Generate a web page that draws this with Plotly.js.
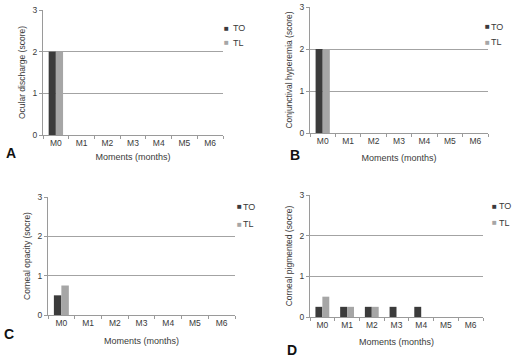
<!DOCTYPE html>
<html>
<head>
<meta charset="utf-8">
<script src="https://cdn.plot.ly/plotly-3.0.1.min.js"></script>
<style>html,body{margin:0;padding:0;background:#fff;}#chart{width:513px;height:359px;}</style>
</head>
<body>
<div id="chart"></div>
<script>
// ---- Data ----
var categories = ['M0', 'M1', 'M2', 'M3', 'M4', 'M5', 'M6'];
var seriesNames = ['TO', 'TL'];
var ocularTO = [2, 0, 0, 0, 0, 0, 0];
var ocularTL = [2, 0, 0, 0, 0, 0, 0];
var conjTO = [2, 0, 0, 0, 0, 0, 0];
var conjTL = [2, 0, 0, 0, 0, 0, 0];
var opacityTO = [0.5, 0, 0, 0, 0, 0, 0];
var opacityTL = [0.75, 0, 0, 0, 0, 0, 0];
var pigmTO = [0.25, 0.25, 0.25, 0.25, 0.25, 0, 0];
var pigmTL = [0.5, 0.25, 0.25, 0, 0, 0, 0];
var yTickVals = [0, 1, 2, 3];
var yTitles = ['Ocular discharge (score)', 'Conjunctival hyperemia (score)', 'Corneal opacity (socre)', 'Corneal pigmented (socre)'];
var xTitle = 'Moments (months)';
var panelLetters = ['A', 'B', 'C', 'D'];

// ---- Styles ----
var W = 513, H = 359;
var colTO = '#3b3b3b', colTL = '#a6a6a6';
var FONT = 'Liberation Sans, Arial, sans-serif';
var gridCol = '#a3a3a3', axisCol = '#9a9a9a', textCol = '#3a3a3a';
function px(x) { return x / W; }
function py(y) { return 1 - y / H; }

var panels = [
  {ax: '', to: ocularTO, tl: ocularTL, xd: [43, 223], yd: [135, 10], xs: 6, ys: 5,
   leg: {x: 222, y1: 28, y2: 43, gap: 9}, letter: {x: 11, y: 153}},
  {ax: '2', to: conjTO, tl: conjTL, xd: [310, 488], yd: [133, 7], xs: 9, ys: 5,
   leg: {x: 483, y1: 27, y2: 42, gap: 6}, letter: {x: 295, y: 155}},
  {ax: '3', to: opacityTO, tl: opacityTL, xd: [48, 235], yd: [315, 197], xs: 10, ys: 5,
   leg: {x: 235, y1: 207, y2: 224, gap: 6}, letter: {x: 9, y: 334}},
  {ax: '4', to: pigmTO, tl: pigmTL, xd: [310, 483], yd: [317, 195], xs: 9, ys: 5,
   leg: {x: 490, y1: 206, y2: 223, gap: 7}, letter: {x: 292, y: 350}}
];

var data = [];
var layout = {
  width: W, height: H,
  margin: {l: 0, r: 0, t: 0, b: 0},
  paper_bgcolor: '#ffffff', plot_bgcolor: '#ffffff',
  barmode: 'group', bargap: 0.44, bargroupgap: 0,
  showlegend: false,
  font: {family: FONT, size: 9, color: textCol},
  annotations: []
};

panels.forEach(function (p, i) {
  var xa = 'x' + p.ax, ya = 'y' + p.ax;
  data.push({type: 'bar', name: seriesNames[0], x: categories, y: p.to, xaxis: xa, yaxis: ya,
             marker: {color: colTO}, hoverinfo: 'x+y+name'});
  data.push({type: 'bar', name: seriesNames[1], x: categories, y: p.tl, xaxis: xa, yaxis: ya,
             marker: {color: colTL}, hoverinfo: 'x+y+name'});
  layout['xaxis' + p.ax] = {
    domain: [px(p.xd[0]), px(p.xd[1])], anchor: ya,
    type: 'category', range: [-0.5, 6.5], fixedrange: true,
    showgrid: false, zeroline: false,
    showline: true, linecolor: axisCol, linewidth: 1,
    ticks: 'outside', tickson: 'boundaries', ticklen: 3, tickcolor: axisCol,
    tickfont: {family: FONT, size: 8.5, color: textCol},
    title: {text: xTitle, font: {family: FONT, size: 9, color: textCol}, standoff: p.xs}
  };
  layout['yaxis' + p.ax] = {
    domain: [py(p.yd[0]), py(p.yd[1])], anchor: xa,
    range: [0, 3], fixedrange: true,
    tickvals: yTickVals,
    showgrid: true, gridcolor: gridCol, gridwidth: 1, zeroline: false,
    showline: true, linecolor: axisCol, linewidth: 1,
    ticks: 'outside', ticklen: 3, tickcolor: axisCol,
    tickfont: {family: FONT, size: 8.5, color: textCol},
    title: {text: yTitles[i], font: {family: FONT, size: 8.5, color: textCol}, standoff: p.ys}
  };
  // legend entries: swatch + label
  [[seriesNames[0], colTO, p.leg.y1], [seriesNames[1], colTL, p.leg.y2]].forEach(function (e) {
    layout.annotations.push({
      xref: 'paper', yref: 'paper', x: px(p.leg.x), y: py(e[2]),
      xanchor: 'left', yanchor: 'middle', showarrow: false,
      text: '\u25A0', font: {family: FONT, size: 8, color: e[1]}
    });
    layout.annotations.push({
      xref: 'paper', yref: 'paper', x: px(p.leg.x + p.leg.gap), y: py(e[2]),
      xanchor: 'left', yanchor: 'middle', showarrow: false,
      text: e[0], font: {family: FONT, size: 9, color: textCol}
    });
  });
  layout.annotations.push({
    xref: 'paper', yref: 'paper', x: px(p.letter.x), y: py(p.letter.y),
    xanchor: 'center', yanchor: 'middle', showarrow: false,
    text: '<b>' + panelLetters[i] + '</b>',
    font: {family: FONT, size: 14, color: '#111111'}
  });
});

Plotly.newPlot('chart', data, layout, {staticPlot: true, displayModeBar: false});
</script>
</body>
</html>
